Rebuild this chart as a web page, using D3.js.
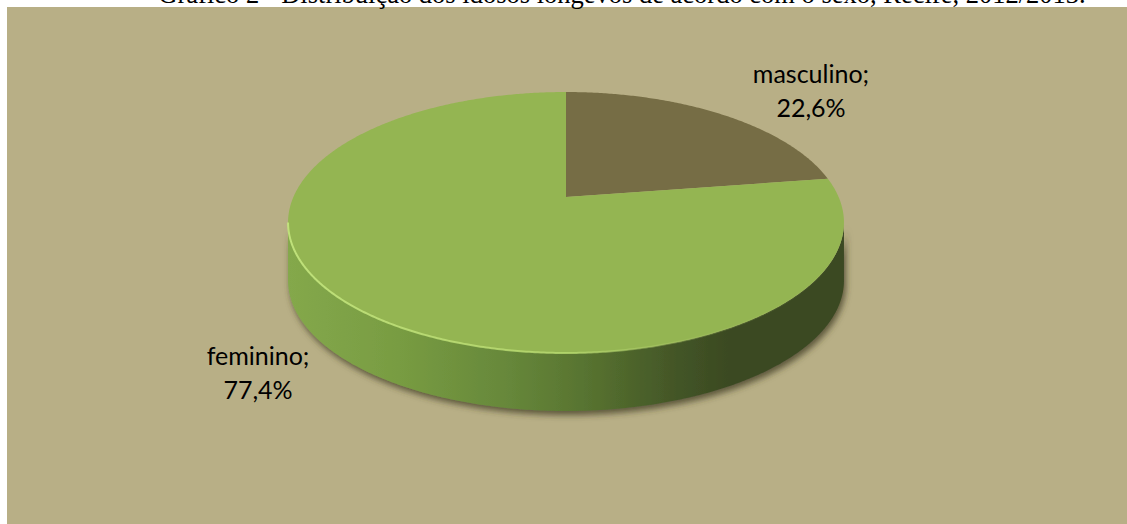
<!DOCTYPE html>
<html>
<head>
<meta charset="utf-8">
<script src="https://cdn.jsdelivr.net/npm/d3@7"></script>
<style>
  html, body { margin: 0; padding: 0; background: #ffffff; }
  svg { display: block; }
</style>
</head>
<body>
<svg id="chart" width="1127" height="524"></svg>
<script>
// Data
const titleText = "Gráfico 2 - Distribuição dos idosos longevos de acordo com o sexo, Recife, 2012/2013.";
const categories = ["masculino", "feminino"];
const values = [22.6, 77.4];
const valueLabels = ["22,6%", "77,4%"];
const topColors = ["#766d45", "#94b552"];

// Layout
const W = 1127, H = 524;
const panel = { x: 7, y: 7 };
const cx = 566, cy = 197;       // projected pie centre
const A = 272.6, B = 125.5;     // horizontal / vertical radii before perspective
const persp = 0.1954;           // perspective factor (far side shrinks)
const depth = 58;               // thickness of the pie
const labelPos = {
  masculino: { x: 811, y: 83 },
  feminino: { x: 258, y: 365 }
};
const lineGap = 34;

const svg = d3.select("#chart");
const defs = svg.append("defs");

// side wall gradient: lit on the left, dark on the right
const sideGrad = defs.append("linearGradient")
  .attr("id", "sideGrad").attr("gradientUnits", "userSpaceOnUse")
  .attr("x1", cx - A * 1.02).attr("x2", cx + A * 1.02).attr("y1", 0).attr("y2", 0);
[[0, "#84a84b"], [0.2, "#789c42"], [0.4, "#66873a"], [0.55, "#56712f"],
 [0.7, "#435527"], [0.8, "#3a4921"], [1, "#3a4821"]]
  .forEach(([o, c]) => sideGrad.append("stop").attr("offset", o).attr("stop-color", c));

// front rim highlight gradient
const rimGrad = defs.append("linearGradient")
  .attr("id", "rimGrad").attr("gradientUnits", "userSpaceOnUse")
  .attr("x1", cx - A).attr("x2", cx + A).attr("y1", 0).attr("y2", 0);
[[0, "#c4e67e", 0.9], [0.5, "#b8db70", 0.8], [0.75, "#a8c964", 0.3], [1, "#a8c964", 0]]
  .forEach(([o, c, op]) => rimGrad.append("stop").attr("offset", o)
    .attr("stop-color", c).attr("stop-opacity", op));

// soft shadow below the pie
const shadow = defs.append("filter").attr("id", "pieShadow")
  .attr("x", "-10%").attr("y", "-10%").attr("width", "120%").attr("height", "130%");
shadow.append("feGaussianBlur").attr("in", "SourceAlpha").attr("stdDeviation", 3).attr("result", "b");
shadow.append("feOffset").attr("in", "b").attr("dx", 2).attr("dy", 4).attr("result", "o");
shadow.append("feFlood").attr("flood-color", "#3e3a22").attr("flood-opacity", 0.75).attr("result", "f");
shadow.append("feComposite").attr("in", "f").attr("in2", "o").attr("operator", "in").attr("result", "s");
const merge = shadow.append("feMerge");
merge.append("feMergeNode").attr("in", "s");
merge.append("feMergeNode").attr("in", "SourceGraphic");

// background panel
svg.append("rect")
  .attr("x", panel.x).attr("y", panel.y)
  .attr("width", W - panel.x).attr("height", H - panel.y)
  .attr("fill", "#b8af86");

// title (runs above the top of the page)
svg.append("text")
  .attr("x", 622).attr("y", 3)
  .attr("text-anchor", "middle")
  .attr("font-family", "'Liberation Serif', 'Times New Roman', serif")
  .attr("font-size", 26.5)
  .attr("fill", "#000")
  .text(titleText);

// perspective projection of a point on the disc (angle clockwise from 12 o'clock)
function proj(theta, r, dz) {
  const s = Math.sin(theta) * r, c = Math.cos(theta) * r;
  const w = 1 + persp * c;
  return [cx + A * s / w, cy - B * c / w + (dz || 0)];
}
function arcPoints(a0, a1, dz) {
  const n = Math.max(2, Math.ceil(Math.abs(a1 - a0) / (Math.PI / 360)));
  return d3.range(n + 1).map(i => proj(a0 + (a1 - a0) * i / n, 1, dz));
}

const pie = d3.pie().sort(null).value(d => d.value);
const arcs = pie(categories.map((c, i) => ({ cat: c, value: values[i], label: valueLabels[i], color: topColors[i] })));
const line = d3.line();

// silhouette limits of the visible wall
const sideStart = Math.acos(-persp), sideEnd = 2 * Math.PI - Math.acos(-persp);

const sideG = svg.append("g").attr("filter", "url(#pieShadow)");
arcs.forEach(a => {
  const s = Math.max(a.startAngle, sideStart), e = Math.min(a.endAngle, sideEnd);
  if (e <= s) return;
  const pts = arcPoints(s, e, 0).concat(arcPoints(e, s, depth));
  sideG.append("path")
    .attr("d", line(pts) + "Z")
    .attr("fill", "url(#sideGrad)");
});

// top faces
const topG = svg.append("g");
arcs.forEach(a => {
  const pts = [[cx, cy]].concat(arcPoints(a.startAngle, a.endAngle, 0));
  topG.append("path")
    .attr("d", line(pts) + "Z")
    .attr("fill", a.data.color);
});

// light rim along the front edge of the top face
svg.append("path")
  .attr("d", line(arcPoints(sideStart, sideEnd, 0).reverse()))
  .attr("fill", "none")
  .attr("stroke", "url(#rimGrad)")
  .attr("stroke-width", 2);

// data labels
const labelG = svg.append("g")
  .attr("font-family", "Lato, 'Open Sans', sans-serif")
  .attr("font-size", 25)
  .attr("fill", "#000")
  .attr("text-anchor", "middle");
arcs.forEach(a => {
  const p = labelPos[a.data.cat];
  labelG.append("text").attr("x", p.x).attr("y", p.y).text(a.data.cat + ";");
  labelG.append("text").attr("x", p.x).attr("y", p.y + lineGap).text(a.data.label);
});
</script>
</body>
</html>
